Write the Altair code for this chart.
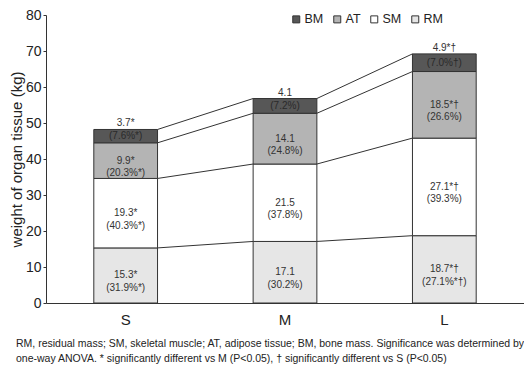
import altair as alt
import pandas as pd
import numpy as np

cats = ["S", "M", "L"]
comps = ["RM", "SM", "AT", "BM"]
RM = [15.3, 17.1, 18.7]
SM = [19.3, 21.5, 27.1]
AT = [9.9, 14.1, 18.5]
BM = [3.7, 4.1, 4.9]
val_labels = {
    "RM": ["15.3*", "17.1", "18.7*†"],
    "SM": ["19.3*", "21.5", "27.1*†"],
    "AT": ["9.9*", "14.1", "18.5*†"],
    "BM": ["3.7*", "4.1", "4.9*†"],
}
pct_labels = {
    "RM": ["(31.9%*)", "(30.2%)", "(27.1%*†)"],
    "SM": ["(40.3%*)", "(37.8%)", "(39.3%)"],
    "AT": ["(20.3%*)", "(24.8%)", "(26.6%)"],
    "BM": ["(7.6%*)", "(7.2%)", "(7.0%†)"],
}
legend_order = ["BM", "AT", "SM", "RM"]
colors = ["#575757", "#b4b4b4", "#ffffff", "#e6e6e6"]
y_ticks = [0, 10, 20, 30, 40, 50, 60, 70, 80]
y_title = "weight of organ tissue (kg)"
footnote = ("RM, residual mass;  SM, skeletal muscle; AT, adipose tissue; BM, bone mass.  Significance was determined by\n"
            "one-way ANOVA.  * significantly different vs M (P<0.05),  † significantly different vs S (P<0.05)")

values = {"RM": RM, "SM": SM, "AT": AT, "BM": BM}
stack = np.array([values[c] for c in comps])
cum_hi = np.cumsum(stack, axis=0)
cum_lo = cum_hi - stack

seg_rows = []
for k, comp in enumerate(comps):
    for i, cat in enumerate(cats):
        lo, hi = cum_lo[k, i], cum_hi[k, i]
        seg_rows.append({
            "cat": cat, "comp": comp, "order": k, "lo": lo, "hi": hi,
            "mid": (lo + hi) / 2,
            "lab": val_labels[comp][i] + "\n" + pct_labels[comp][i],
            "val": val_labels[comp][i], "pct": pct_labels[comp][i],
        })
seg = pd.DataFrame(seg_rows)

rule_rows = []
for i in range(len(cats) - 1):
    for k in range(len(comps)):
        rule_rows.append({"cat": cats[i], "cat2": cats[i + 1],
                          "y": cum_hi[k, i], "y2": cum_hi[k, i + 1]})
rules_df = pd.DataFrame(rule_rows)

W, H = 478, 288
FONT = "Liberation Sans"
xscale = alt.Scale(domain=cats, paddingInner=0.6, paddingOuter=0.3)
yscale = alt.Scale(domain=[0, 80])

xaxis = alt.Axis(title=None, ticks=False, labelAngle=0, labelFontSize=15,
                 labelPadding=9, domainColor="#333", labelColor="#222", labelFont=FONT)
yaxis = alt.Axis(title=y_title, values=y_ticks, tickCount=9, grid=False, tickSize=3,
                 labelFontSize=14, labelPadding=2, labelOverlap=False, labelFlush=False,
                 domainColor="#333", tickColor="#333",
                 labelColor="#222", titleFontSize=15, titleFontWeight="normal",
                 titleColor="#222", titlePadding=1, labelFont=FONT, titleFont=FONT)


def X(bp=None):
    if bp is None:
        return alt.X("cat:N", sort=cats, scale=xscale, axis=xaxis)
    return alt.X("cat:N", sort=cats, scale=xscale, axis=xaxis, bandPosition=bp)


def Y(field):
    return alt.Y(field, scale=yscale, axis=yaxis)


bars = alt.Chart(seg).mark_bar(stroke="#333", strokeWidth=1).encode(
    x=X(),
    y=Y("lo:Q"),
    y2="hi:Q",
    color=alt.Color("comp:N", scale=alt.Scale(domain=legend_order, range=colors),
                    legend=alt.Legend(title=None, orient="none", direction="horizontal",
                                      legendX=244, legendY=-2, symbolType="square",
                                      symbolSize=49, symbolStrokeColor="#333",
                                      symbolStrokeWidth=1, labelFontSize=12.5,
                                      labelOffset=2, columnPadding=7, padding=0,
                                      labelFont=FONT, labelColor="#222")),
)

rules = alt.Chart(rules_df).mark_rule(color="#333", strokeWidth=1).encode(
    x=X(1),
    x2=alt.X2("cat2:N", bandPosition=0),
    y=Y("y:Q"),
    y2="y2:Q",
)

seg_text = alt.Chart(seg).transform_filter(alt.datum.comp != "BM").mark_text(
    fontSize=10, lineHeight=12.5, lineBreak="\n", color="#333", font=FONT, baseline="middle"
).encode(x=X(), y=Y("mid:Q"), text="lab:N")

bm_pct = alt.Chart(seg).transform_filter(alt.datum.comp == "BM").mark_text(
    fontSize=10, color="#2a2a2a", font=FONT, baseline="middle"
).encode(x=X(), y=Y("mid:Q"), text="pct:N")

bm_val = alt.Chart(seg).transform_filter(alt.datum.comp == "BM").mark_text(
    fontSize=10, color="#333", font=FONT, baseline="bottom", dy=-1
).encode(x=X(), y=Y("hi:Q"), text="val:N")

foot = alt.Chart(pd.DataFrame({"t": [footnote]})).mark_text(
    fontSize=10.5, lineHeight=14.5, lineBreak="\n", align="left", baseline="middle",
    color="#222", font=FONT
).encode(x=alt.value(-30), y=alt.value(329), text="t:N")

chart = alt.layer(bars, rules, seg_text, bm_pct, bm_val, foot).properties(
    width=W, height=H,
    autosize=alt.AutoSizeParams(type="none"),
    padding={"left": 38, "top": 7, "right": 0, "bottom": 61},
).configure_view(stroke=None)

chart.save("out.html", embed_options={"renderer": "svg", "actions": False})
